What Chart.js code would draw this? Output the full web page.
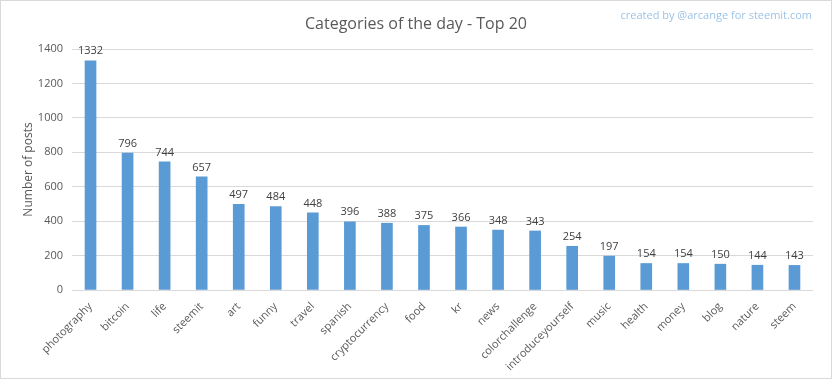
<!DOCTYPE html>
<html><head><meta charset="utf-8">
<script src="https://cdn.jsdelivr.net/npm/chart.js@4"></script>
<style>html,body{margin:0;padding:0;background:#fff;}#wrap{width:832px;height:379px;position:relative;}</style>
</head><body><div id="wrap"><canvas id="c" width="832" height="379"></canvas></div>
<script>
const categories = ["photography","bitcoin","life","steemit","art","funny","travel","spanish","cryptocurrency","food","kr","news","colorchallenge","introduceyourself","music","health","money","blog","nature","steem"];
const posts = [1332,796,744,657,497,484,448,396,388,375,366,348,343,254,197,154,154,150,144,143];
const yTicks = [0,200,400,600,800,1000,1200,1400];
const titleText = "Categories of the day - Top 20";
const creditText = "created by @arcange for steemit.com";
const yTitle = "Number of posts";

const FONT = "'Open Sans', 'Noto Sans', sans-serif";
const txt = '#595959';

const deco = {
  id: 'deco',
  afterDraw(chart) {
    const ctx = chart.ctx;
    ctx.save();
    ctx.strokeStyle = '#d9d9d9';
    ctx.lineWidth = 1;
    ctx.strokeRect(0.5, 0.5, chart.width - 1, chart.height - 1);
    ctx.fillStyle = txt;
    ctx.font = "16px " + FONT;
    ctx.textAlign = 'center';
    ctx.textBaseline = 'middle';
    ctx.fillText(titleText, 416, 24);
    ctx.fillStyle = '#9dc3e6';
    ctx.font = "11px " + FONT;
    ctx.textAlign = 'right';
    ctx.fillText(creditText, 812, 16);
    ctx.fillStyle = '#404040';
    ctx.font = "11px " + FONT;
    ctx.textAlign = 'center';
    ctx.textBaseline = 'bottom';
    const meta = chart.getDatasetMeta(0);
    meta.data.forEach((el, i) => {
      ctx.fillText(String(posts[i]), el.x, el.y - 4);
    });
    ctx.restore();
  }
};

new Chart(document.getElementById('c'), {
  type: 'bar',
  data: {
    labels: categories,
    datasets: [{ data: posts, backgroundColor: '#5b9bd5', barThickness: 11 }]
  },
  options: {
    responsive: false,
    animation: false,
    layout: { padding: { left: 21, right: 19, top: 49, bottom: 0 } },
    plugins: { legend: { display: false }, tooltip: { enabled: false }, title: { display: false } },
    scales: {
      x: {
        grid: { display: false },
        border: { display: false },
        ticks: { color: txt, font: { family: FONT, size: 11 }, minRotation: 45, maxRotation: 45, autoSkip: false, padding: 2 },
        afterFit(s) { s.height = 89; }
      },
      y: {
        min: 0, max: 1400,
        afterBuildTicks(s) { s.ticks = yTicks.map(v => ({ value: v })); },
        grid: { color: '#d9d9d9', drawTicks: false },
        border: { display: false },
        ticks: { color: txt, font: { family: FONT, size: 11 }, padding: 9, callback: (v) => String(v) },
        title: { display: true, text: yTitle, color: txt, font: { family: FONT, size: 12 }, padding: { top: 0, bottom: 4 } },
        afterFit(s) { s.width = 51; }
      }
    }
  },
  plugins: [deco]
});
</script>
</body></html>
